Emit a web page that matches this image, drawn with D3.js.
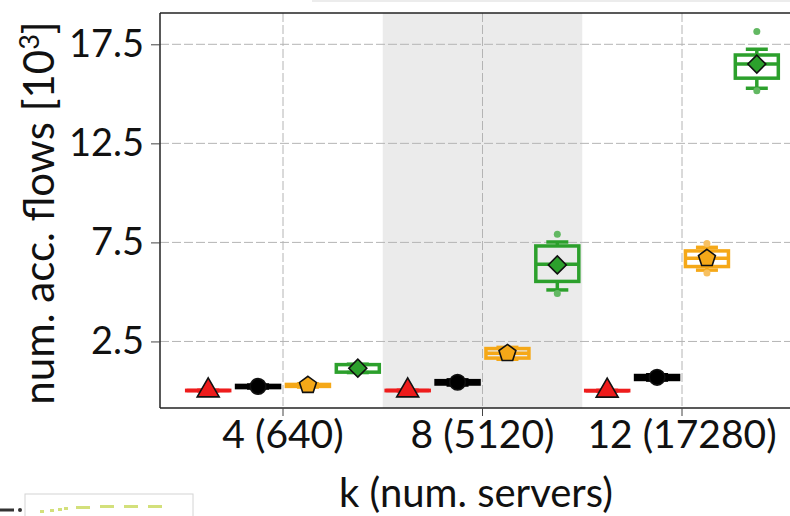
<!DOCTYPE html>
<html>
<head>
<meta charset="utf-8">
<script src="https://cdn.jsdelivr.net/npm/d3@7"></script>
<style>
  body { margin: 0; background: #fff; }
  svg { display: block; }
  text { font-family: Lato, "Open Sans", sans-serif; fill: #111; }
</style>
</head>
<body>
<svg id="chart" width="790" height="516"></svg>
<script>
// groups on the x axis
var groups = ["4 (640)", "8 (5120)", "12 (17280)"];
var series = ["s1", "s2", "s3", "s4"];
var colors = ["#ee1c1c", "#000000", "#f5a818", "#2ca02c"];
var flierColors = ["#f07070", "#555555", "#f7c060", "#62b862"];
var shapes = ["triangle", "circle", "pentagon", "diamond"];

// [min, q1, median, q3, max] per group, one array per series (values in 10^3)
var redStats    = [[0.01, 0.015, 0.02, 0.03, 0.035], [0.01, 0.015, 0.02, 0.03, 0.035], [0.005, 0.01, 0.015, 0.025, 0.03]];
var blackStats  = [[0.15, 0.17, 0.22, 0.28, 0.30], [0.30, 0.35, 0.44, 0.52, 0.56], [0.55, 0.58, 0.68, 0.78, 0.82]];
var orangeStats = [[0.20, 0.23, 0.28, 0.33, 0.36], [1.60, 1.66, 1.90, 2.14, 2.20], [6.10, 6.28, 6.70, 7.07, 7.25]];
var greenStats  = [[0.93, 0.95, 1.12, 1.33, 1.35], [5.10, 5.53, 6.40, 7.32, 7.52], [15.28, 15.79, 16.50, 16.96, 17.25]];
var means = [[0.02, 0.02, 0.01], [0.23, 0.44, 0.69], [0.29, 1.90, 6.70], [1.15, 6.36, 16.50]];
var fliers = [[[], [], []], [[], [], []], [[], [], [5.95, 7.45]], [[], [4.92, 7.91], [15.15, 18.14]]];
var stats = [redStats, blackStats, orangeStats, greenStats];

var yTicks = [2.5, 7.5, 12.5, 17.5];

(function() {
var svg = d3.select("#chart");
var left = 160, topY = 13, bottom = 408, right = 805;

var y = d3.scaleLinear().domain([-0.86, 19.08]).range([bottom, topY]);
var x = d3.scaleBand().domain(groups).range([183.25, 781.75]);
var xs = d3.scaleBand().domain(series).range([0, x.bandwidth()]);
var boxW = 43, capW = 22;

// faint bits of neighbouring figure
svg.append("line").attr("x1", 312).attr("x2", 790).attr("y1", 1).attr("y2", 1)
   .attr("stroke", "#e6e6e6").attr("stroke-width", 1.5);
svg.append("rect").attr("x", 25).attr("y", 494).attr("width", 168).attr("height", 30)
   .attr("fill", "none").attr("stroke", "#d4d4d4").attr("stroke-width", 1);
svg.append("line").attr("x1", 0).attr("x2", 14).attr("y1", 510).attr("y2", 510)
   .attr("stroke", "#333").attr("stroke-width", 3);
svg.append("circle").attr("cx", 20).attr("cy", 510).attr("r", 2).attr("fill", "#333");
[[40, 512], [50, 511], [58, 510], [64, 509], [76, 508], [100, 507], [124, 507], [148, 507]].forEach(function(p, i) {
  svg.append("rect").attr("x", p[0]).attr("y", p[1] - 2).attr("width", i > 3 ? 14 : 4).attr("height", 3)
     .attr("fill", "#c8d85a").attr("opacity", 0.8);
});

var plot = svg.append("g");
plot.append("defs").append("clipPath").attr("id", "clip")
  .append("rect").attr("x", left).attr("y", topY).attr("width", right - left).attr("height", bottom - topY);

// grey band behind middle group
plot.append("rect")
  .attr("x", x(groups[1])).attr("y", topY)
  .attr("width", x.bandwidth()).attr("height", bottom - topY)
  .attr("fill", "#ebebeb");

// grid
plot.selectAll(".gy").data(yTicks).enter().append("line")
  .attr("x1", left).attr("x2", right)
  .attr("y1", function(d) { return y(d); }).attr("y2", function(d) { return y(d); })
  .attr("stroke", "#b4b4b4").attr("stroke-width", 1).attr("stroke-dasharray", "9,3");
plot.selectAll(".gx").data(groups).enter().append("line")
  .attr("x1", function(d) { return x(d) + x.bandwidth() / 2; })
  .attr("x2", function(d) { return x(d) + x.bandwidth() / 2; })
  .attr("y1", topY).attr("y2", bottom)
  .attr("stroke", "#b4b4b4").attr("stroke-width", 1).attr("stroke-dasharray", "9,3");

function markerPath(shape, s) {
  if (shape === "triangle") return d3.symbol().type(d3.symbolTriangle).size(s * 1.1)();
  if (shape === "circle") return d3.symbol().type(d3.symbolCircle).size(s)();
  if (shape === "diamond") return d3.symbol().type(d3.symbolSquare).size(s * 0.85)();
  // pentagon
  var r = Math.sqrt(s / 2.4), pts = [];
  for (var i = 0; i < 5; i++) {
    var a = -Math.PI / 2 + i * 2 * Math.PI / 5;
    pts.push([r * Math.cos(a), r * Math.sin(a)]);
  }
  return "M" + pts.join("L") + "Z";
}

var boxes = plot.append("g").attr("clip-path", "url(#clip)");
series.forEach(function(s, si) {
  groups.forEach(function(g, gi) {
    var st = stats[si][gi];
    var cx = x(g) + xs(s) + xs.bandwidth() / 2;
    var col = colors[si];
    var bx = boxes.append("g");
    // whiskers
    bx.append("line").attr("x1", cx).attr("x2", cx).attr("y1", y(st[0])).attr("y2", y(st[1]))
      .attr("stroke", col).attr("stroke-width", 3.5);
    bx.append("line").attr("x1", cx).attr("x2", cx).attr("y1", y(st[3])).attr("y2", y(st[4]))
      .attr("stroke", col).attr("stroke-width", 3.5);
    [st[0], st[4]].forEach(function(v) {
      bx.append("line").attr("x1", cx - capW / 2).attr("x2", cx + capW / 2)
        .attr("y1", y(v)).attr("y2", y(v))
        .attr("stroke", col).attr("stroke-width", 3.5);
    });
    // box
    bx.append("rect").attr("x", cx - boxW / 2).attr("y", y(st[3]))
      .attr("width", boxW).attr("height", Math.max(0.01, y(st[1]) - y(st[3])))
      .attr("fill", "none").attr("stroke", col).attr("stroke-width", 3.5);
    // median
    bx.append("line").attr("x1", cx - boxW / 2).attr("x2", cx + boxW / 2)
      .attr("y1", y(st[2])).attr("y2", y(st[2]))
      .attr("stroke", col).attr("stroke-width", si === 3 && gi === 0 ? 0 : 3.5);
    // fliers
    fliers[si][gi].forEach(function(v) {
      bx.append("circle").attr("cx", cx).attr("cy", y(v)).attr("r", 3.5).attr("fill", flierColors[si]);
    });
    // mean marker
    bx.append("path")
      .attr("d", markerPath(shapes[si], 190))
      .attr("transform", "translate(" + cx + "," + y(means[si][gi]) + ")" + (shapes[si] === "diamond" ? " rotate(45)" : ""))
      .attr("fill", col).attr("stroke", "#111").attr("stroke-width", 1.6);
  });
});

// spines
svg.append("line").attr("x1", left).attr("x2", left).attr("y1", topY).attr("y2", bottom)
   .attr("stroke", "#222").attr("stroke-width", 1.5);
svg.append("line").attr("x1", left).attr("x2", 790).attr("y1", topY).attr("y2", topY)
   .attr("stroke", "#222").attr("stroke-width", 1.5);
svg.append("line").attr("x1", left).attr("x2", 790).attr("y1", bottom).attr("y2", bottom)
   .attr("stroke", "#222").attr("stroke-width", 1.5);

// axes
var yAxis = d3.axisLeft(y).tickValues(yTicks).tickFormat(d3.format(".1f")).tickSize(9).tickPadding(7);
var gy = svg.append("g").attr("transform", "translate(" + left + ",0)").call(yAxis);
gy.select(".domain").remove();
gy.selectAll(".tick line").attr("stroke", "#444");
gy.selectAll(".tick text").style("font-size", "38px").attr("fill", "#111");

var xAxis = d3.axisBottom(x).tickSize(8).tickPadding(4);
var gx = svg.append("g").attr("transform", "translate(0," + bottom + ")").call(xAxis);
gx.select(".domain").remove();
gx.selectAll(".tick line").attr("stroke", "#444");
gx.selectAll(".tick text").style("font-size", "39px").attr("fill", "#111");

// axis titles
svg.append("text").attr("x", 476).attr("y", 507).attr("text-anchor", "middle")
   .style("font-size", "40px").text("k (num. servers)");
var yl = svg.append("text").attr("transform", "translate(54,213) rotate(-90)").attr("text-anchor", "middle")
   .style("font-size", "42px");
yl.append("tspan").text("num. acc. flows [10");
yl.append("tspan").attr("dy", -15).style("font-size", "27px").text("3");
yl.append("tspan").attr("dy", 15).text("]");
})();
</script>
</body>
</html>
